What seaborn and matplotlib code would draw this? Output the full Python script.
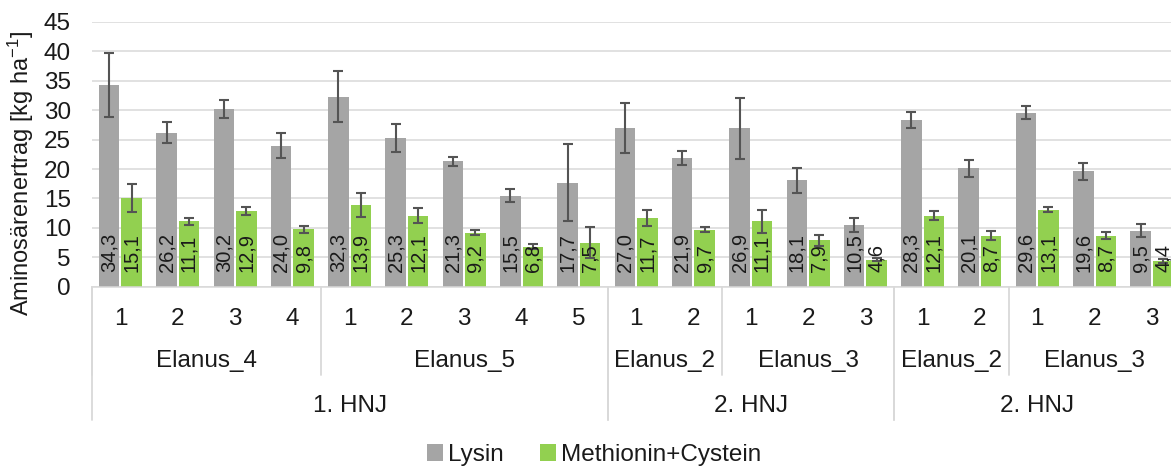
import numpy as np
import pandas as pd
import matplotlib
matplotlib.use("Agg")
import matplotlib.pyplot as plt
import matplotlib.transforms as mtransforms
import seaborn as sns

# ---------------- data ----------------
hnj_labels = ["1. HNJ", "2. HNJ", "2. HNJ"]
variety_labels = ["Elanus_4", "Elanus_5", "Elanus_2", "Elanus_3", "Elanus_2", "Elanus_3"]
variety_hnj = [0, 0, 1, 1, 2, 2]
variety_counts = [4, 5, 2, 3, 2, 3]
tick_labels = ["1", "2", "3", "4", "1", "2", "3", "4", "5", "1", "2", "1", "2", "3",
               "1", "2", "1", "2", "3"]

lysin = [34.3, 26.2, 30.2, 24.0, 32.3, 25.3, 21.3, 15.5, 17.7, 27.0, 21.9, 26.9, 18.1,
         10.5, 28.3, 20.1, 29.6, 19.6, 9.5]
lysin_err = [5.5, 1.8, 1.5, 2.2, 4.3, 2.4, 0.8, 1.1, 6.6, 4.3, 1.2, 5.2, 2.1, 1.2, 1.4,
             1.5, 1.1, 1.5, 1.1]
metcys = [15.1, 11.1, 12.9, 9.8, 13.9, 12.1, 9.2, 6.8, 7.5, 11.7, 9.7, 11.1, 7.9, 4.6,
          12.1, 8.7, 13.1, 8.7, 4.4]
metcys_err = [2.4, 0.6, 0.65, 0.6, 2.0, 1.3, 0.4, 0.4, 2.6, 1.3, 0.4, 1.9, 0.9, 0.3, 0.8,
              0.8, 0.45, 0.6, 0.3]
series_names = ["Lysin", "Methionin+Cystein"]
colors = ["#A5A5A5", "#92D050"]

# ---------------- style ----------------
sns.set_style("white")
plt.rcParams["font.family"] = ["Liberation Sans", "DejaVu Sans"]
plt.rcParams["mathtext.fontset"] = "custom"
plt.rcParams["mathtext.rm"] = "Liberation Sans"
plt.rcParams["mathtext.it"] = "Liberation Sans:italic"
plt.rcParams["mathtext.bf"] = "Liberation Sans:bold"

FS = 17.5
W, H = 1171, 468
fig = plt.figure(figsize=(W / 100, H / 100), dpi=100)
ax_left, ax_right = 91.8, 1180.5
ax_top, ax_bottom = 22.0, 286.7
ax = fig.add_axes([ax_left / W, (H - ax_bottom) / H,
                   (ax_right - ax_left) / W, (ax_bottom - ax_top) / H])

n = len(tick_labels)
cat_ids = [f"c{i:02d}" for i in range(n)]
df = pd.DataFrame({
    "cat": cat_ids * 2,
    "series": [series_names[0]] * n + [series_names[1]] * n,
    "value": lysin + metcys,
})

sns.barplot(data=df, x="cat", y="value", hue="series", order=cat_ids,
            hue_order=series_names, palette=colors, width=0.785, gap=0.09,
            errorbar=None, saturation=1, linewidth=0, ax=ax, legend=True)

# error bars and labels
errs = [lysin_err, metcys_err]
for cont, err in zip(ax.containers, errs):
    xs = [p.get_x() + p.get_width() / 2 for p in cont.patches]
    hs = [p.get_height() for p in cont.patches]
    ax.errorbar(xs, hs, yerr=err, fmt="none", ecolor="#545454", elinewidth=1.5,
                capsize=3.4, capthick=1.5, zorder=3)
    for x, h in zip(xs, hs):
        ax.annotate(f"{h:.1f}".replace(".", ","), xy=(x, 0), xytext=(0, 10.5),
                    textcoords="offset points", ha="center", va="bottom",
                    rotation=90, fontsize=14.5, color="#1a1a1a", zorder=4)

ax.set_ylim(0, 45)
ax.set_yticks(np.arange(0, 46, 5))
ax.set_xlim(-0.5, n - 0.5)
ax.yaxis.grid(True, color="#D9D9D9", linewidth=1.1)
ax.set_axisbelow(True)
for s in ["top", "right", "left"]:
    ax.spines[s].set_visible(False)
ax.spines["bottom"].set_color("#D9D9D9")
ax.spines["bottom"].set_linewidth(1.1)

ax.set_xticks(range(n))
ax.set_xticklabels(tick_labels)
ax.tick_params(axis="x", length=0, pad=15, labelsize=FS, labelcolor="#1a1a1a")
ax.tick_params(axis="y", length=0, pad=15, labelsize=FS, labelcolor="#1a1a1a")
ax.set_xlabel("")
ax.set_ylabel("")

# multi-level category axis
trans = mtransforms.blended_transform_factory(ax.transData, ax.transAxes)
ax_h = ax_bottom - ax_top
y_var = -(360.5 - ax_bottom) / ax_h
y_hnj = -(405.5 - ax_bottom) / ax_h
y_sep1 = -(375 - ax_bottom) / ax_h
y_sep2 = -(419.5 - ax_bottom) / ax_h
sep_kw = dict(color="#D9D9D9", linewidth=1.3, transform=trans, clip_on=False)

start = 0
hnj_ranges = {}
for lab, hi, cnt in zip(variety_labels, variety_hnj, variety_counts):
    lo_x, hi_x = start - 0.5, start + cnt - 0.5
    ax.text((lo_x + hi_x) / 2, y_var, lab, transform=trans, ha="center", va="center",
            fontsize=FS, color="#1a1a1a")
    ax.plot([lo_x, lo_x], [0, y_sep1], **sep_kw)
    r = hnj_ranges.setdefault(hi, [lo_x, hi_x])
    r[1] = hi_x
    start += cnt
for hi, (lo_x, hi_x) in hnj_ranges.items():
    ax.text((lo_x + hi_x) / 2, y_hnj, hnj_labels[hi], transform=trans, ha="center",
            va="center", fontsize=FS, color="#1a1a1a")
    ax.plot([lo_x, lo_x], [0, y_sep2], **sep_kw)
    ax.plot([hi_x, hi_x], [0, y_sep2], **sep_kw)

fig.text(21 / W, (H - 173) / H, r"Aminosärenertrag [kg ha$^{-1}$]", rotation=90,
         ha="center", va="center", fontsize=17, color="#1a1a1a")

# legend
handles, labels = ax.get_legend_handles_labels()
ax.get_legend().remove()
fig.legend(handles, labels, loc="center", bbox_to_anchor=(594 / W, (H - 455) / H),
           ncol=2, frameon=False, fontsize=FS, handlelength=0.65, handleheight=0.65,
           handletextpad=0.2, columnspacing=1.5, labelcolor="#1a1a1a")

fig.savefig("out.png", dpi=100)
